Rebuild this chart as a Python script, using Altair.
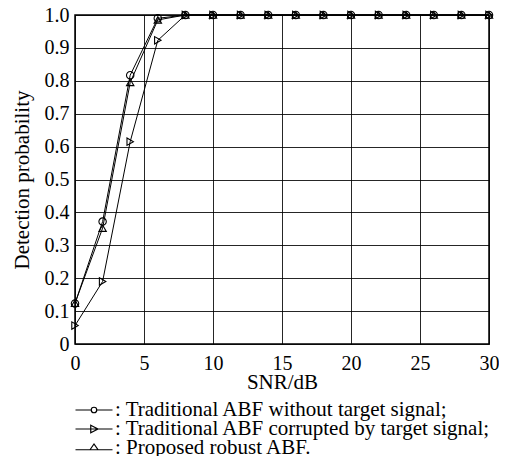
import altair as alt
import pandas as pd

snr = [0, 2, 4, 6, 8, 10, 12, 14, 16, 18, 20, 22, 24, 26, 28, 30]
pd_without = [0.123, 0.372, 0.817, 0.99, 1, 1, 1, 1, 1, 1, 1, 1, 1, 1, 1, 1]
pd_corrupted = [0.056, 0.19, 0.615, 0.923, 1, 1, 1, 1, 1, 1, 1, 1, 1, 1, 1, 1]
pd_proposed = [0.124, 0.352, 0.795, 0.985, 1, 1, 1, 1, 1, 1, 1, 1, 1, 1, 1, 1]

series_names = [
    "Traditional ABF without target signal;",
    "Traditional ABF corrupted by target signal;",
    "Proposed robust ABF.",
]
plot_shapes = ["circle", "triangle-right", "triangle-up"]
# legend glyphs: short line with the marker in its middle (unit: 5px)
legend_shapes = [
    "M-3.7,0L-0.55,0M0.55,0L3.7,0M-0.55,0A0.55,0.55,0,1,0,0.55,0A0.55,0.55,0,1,0,-0.55,0Z",
    "M-3.7,0L3.7,0M-0.65,-0.75L0.8,0L-0.65,0.75Z",
    "M-3.7,0.35L3.7,0.35M-0.8,0.35L0,-0.8L0.8,0.35Z",
]

rows = []
for name, vals in zip(series_names, [pd_without, pd_corrupted, pd_proposed]):
    for s, v in zip(snr, vals):
        rows.append({"series": name, "snr": s, "pd": v})
df = pd.DataFrame(rows)
legend_df = pd.DataFrame({"series": series_names})

FONT = "Liberation Serif"

x_enc = alt.X(
    "snr:Q",
    scale=alt.Scale(domain=[0, 30], nice=False),
    axis=alt.Axis(
        title="SNR/dB",
        values=[0, 5, 10, 15, 20, 25, 30],
        labelFlush=False,
        labelPadding=9,
        titlePadding=-2,
    ),
)
y_enc = alt.Y(
    "pd:Q",
    scale=alt.Scale(domain=[0, 1], nice=False),
    axis=alt.Axis(
        title="Detection probability",
        values=[0, 0.1, 0.2, 0.3, 0.4, 0.5, 0.6, 0.7, 0.8, 0.9, 1.0],
        labelExpr="datum.value == 0 ? '0' : format(datum.value, '.1f')",
        labelPadding=6,
        titlePadding=12,
    ),
)

lines = alt.Chart(df).mark_line(color="black", strokeWidth=1).encode(
    x=x_enc, y=y_enc, detail="series:N"
)

points = alt.Chart(df).mark_point(
    filled=False, color="black", size=55, strokeWidth=1.1, opacity=1
).encode(
    x=x_enc,
    y=y_enc,
    shape=alt.Shape(
        "series:N",
        scale=alt.Scale(domain=series_names, range=plot_shapes),
        legend=None,
    ),
)

data_layers = alt.layer(lines, points)

# legend below the x-axis title: rows placed by a point scale
legend_y = alt.Y(
    "series:N",
    sort=series_names,
    scale=alt.Scale(domain=series_names, range=[395, 433], padding=0),
    axis=None,
)

legend_glyphs = alt.Chart(legend_df).mark_point(
    filled=False, color="black", size=100, strokeWidth=1.2, opacity=1
).encode(
    x=alt.value(19),
    y=legend_y,
    shape=alt.Shape(
        "series:N",
        scale=alt.Scale(domain=series_names, range=legend_shapes),
        legend=None,
    ),
)

legend_text = alt.Chart(legend_df).transform_calculate(
    lbl="': ' + datum.series"
).mark_text(
    align="left", baseline="middle", font=FONT, fontSize=21, color="black"
).encode(
    x=alt.value(40),
    y=legend_y,
    text="lbl:N",
)

legend_layers = alt.layer(legend_glyphs, legend_text)

chart = (
    alt.layer(data_layers, legend_layers)
    .resolve_scale(shape="independent", y="independent")
    .properties(
        width=414,
        height=329,
        autosize=alt.AutoSizeParams(type="none"),
        padding={"left": 67, "top": 7, "right": 10, "bottom": 112},
    )
    .configure(font=FONT)
    .configure_view(stroke="black", strokeWidth=1.5)
    .configure_axis(
        domain=False,
        ticks=False,
        grid=True,
        gridColor="black",
        gridOpacity=0.85,
        gridWidth=1,
        labelFont=FONT,
        labelFontSize=20,
        labelColor="black",
        titleFont=FONT,
        titleFontSize=21,
        titleFontWeight="normal",
        titleColor="black",
    )
)

chart.save("out.html", embed_options={"renderer": "svg", "actions": False})
